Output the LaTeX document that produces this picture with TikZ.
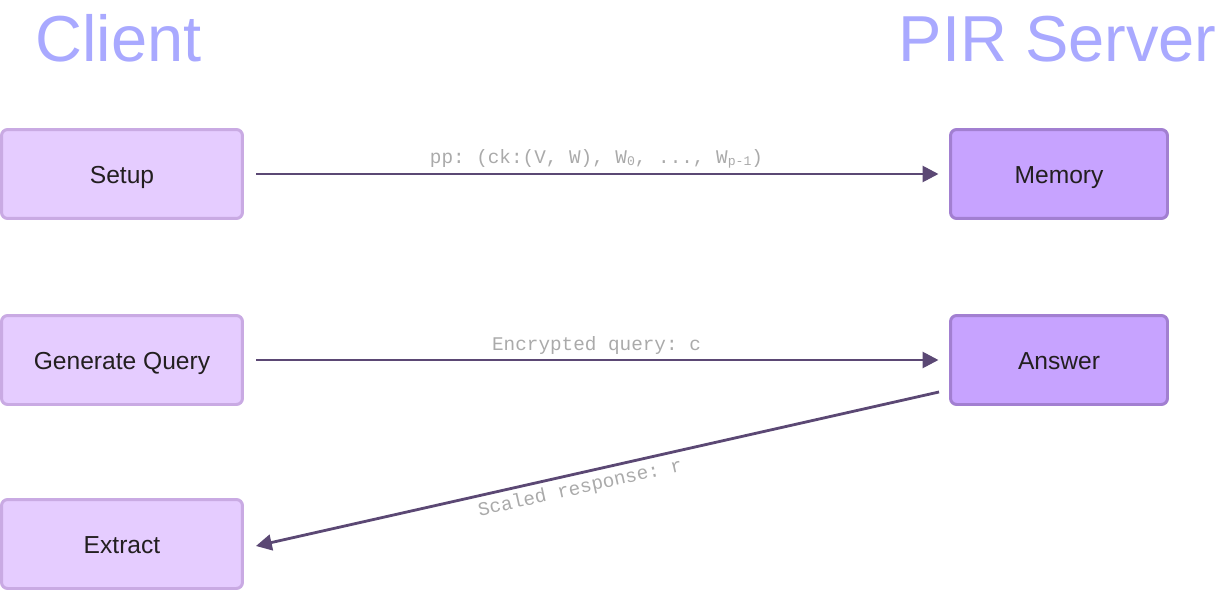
\documentclass[tikz,border=0pt]{standalone}
\usepackage{fontspec}
\setmainfont{Liberation Sans}
\setmonofont{Liberation Mono}
\usetikzlibrary{calc,arrows.meta}

\definecolor{titlecol}{HTML}{A9A9FF}
\definecolor{clientfill}{HTML}{E5CCFF}
\definecolor{clientdraw}{HTML}{C9AAE3}
\definecolor{serverfill}{HTML}{C7A3FF}
\definecolor{serverdraw}{HTML}{A27FD1}
\definecolor{arrowcol}{HTML}{5B4874}
\definecolor{labelcol}{HTML}{AAAAAA}
\definecolor{boxtext}{HTML}{231F20}

\tikzset{
  clientbox/.style={draw=clientdraw, fill=clientfill, line width=1.7pt, rounded corners=3.5pt,
    minimum width=4.82cm, minimum height=1.78cm, text=boxtext, font=\fontsize{14}{16}\selectfont,
    text height=2.1ex, text depth=0pt},
  serverbox/.style={clientbox, draw=serverdraw, fill=serverfill, minimum width=4.34cm},
  msg/.style={line width=1.6pt, draw=arrowcol, -{Triangle[length=9pt,width=9pt]}},
  msglabel/.style={text=labelcol, font=\ttfamily\fontsize{11}{13}\selectfont},
  heading/.style={text=titlecol, font=\fontsize{37}{40}\selectfont}
}
\newcommand{\lsub}[1]{\raisebox{-0.25ex}{\fontsize{7.5}{8}\selectfont #1}}

\begin{document}
\begin{tikzpicture}[x=0.02cm,y=-0.02cm]
		%%%%% START %%%%%
		\useasboundingbox (0,0) rectangle (1219,591);
		
		\node[heading, anchor=base west, inner sep=0pt] (client) at (35,62) {Client};
		\node[heading, anchor=base east, inner sep=0pt] (server) at (1217,62) {PIR Server};
		
		\node[clientbox] (setup) at (122,174) {Setup};
		\node[clientbox] (query) at (122,360) {Generate Query};
		\node[clientbox] (extract) at (122,544) {Extract};
		
		\node[serverbox] (memory) at (1059,174) {Memory};
		\node[serverbox] (answer) at (1059,360) {Answer};
		
		\draw[msg, shorten <=7pt, shorten >=6pt] (setup) -- (memory)
			node[msglabel, midway, above=-1pt] (pplabel) {pp: (ck:(V, W), W\lsub{0}, ..., W\lsub{p-1})};
		\draw[msg, shorten <=7pt, shorten >=6pt] (query) -- (answer)
			node[msglabel, midway, above=-1pt] (querylabel) {Encrypted query: c};
		
		\coordinate (respstart) at ($(answer.south west)+(-10,-14)$);
		\coordinate (respend) at ($(extract.east)+(12,2)$);
		\draw[msg] (respstart) -- (respend)
			node[msglabel, pos=0.53, sloped, below=-0.5pt] (resplabel) {Scaled response: r};
		
		%%%%% END %%%%%
	\end{tikzpicture}
\end{document}
